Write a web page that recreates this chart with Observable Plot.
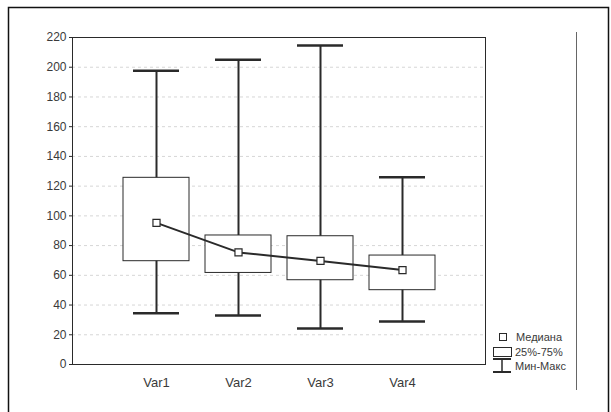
<!DOCTYPE html>
<html><head><meta charset="utf-8">
<script src="https://cdn.jsdelivr.net/npm/d3@7"></script>
<script src="https://cdn.jsdelivr.net/npm/@observablehq/plot@0.6"></script>
<style>
html,body{margin:0;padding:0;background:#fff;}
#chart{position:relative;width:611px;height:412px;overflow:hidden;}
</style></head><body><div id="chart"></div>
<script>
const categories = ["Var1", "Var2", "Var3", "Var4"];
const minValues = [34.5, 33, 24.2, 29];
const q1Values = [69.5, 61.6, 56.7, 50];
const medianValues = [95.3, 75.4, 69.7, 63.5];
const q3Values = [125.6, 86.8, 86.3, 73.3];
const maxValues = [197.6, 205, 214.7, 126];
const yTicks = [0, 20, 40, 60, 80, 100, 120, 140, 160, 180, 200, 220];
const gridValues = [20, 40, 60, 80, 100, 120, 140, 160, 180, 200];
const legendItems = ["Медиана", "25%-75%", "Мин-Макс"];

const data = categories.map((c, i) => ({
  cat: c, min: minValues[i], q1: q1Values[i], med: medianValues[i], q3: q3Values[i], max: maxValues[i]
}));

const ink = "#2a2a2a";
const plot = Plot.plot({
  width: 611, height: 412,
  marginLeft: 72, marginRight: 126, marginTop: 37, marginBottom: 48,
  style: {fontFamily: "'Liberation Sans', Arial, sans-serif", fontSize: "12px", color: "#3a3a3a", background: "white"},
  x: {type: "band", domain: categories, paddingInner: 0.2, paddingOuter: 0.6, label: null},
  y: {domain: [0, 220], label: null},
  marks: [
    Plot.ruleY(gridValues, {stroke: "#d6d6d6", strokeDasharray: "3,3", strokeWidth: 1}),
    Plot.frame({stroke: ink, strokeWidth: 1}),
    Plot.axisY({ticks: yTicks, tickSize: 3, tickPadding: 3, fontSize: 12, stroke: ink}),
    Plot.axisX({tickSize: 0, tickPadding: 13, fontSize: 13}),
    Plot.ruleX(data, {x: "cat", y1: "min", y2: "max", stroke: ink, strokeWidth: 2}),
    Plot.tickY(data, {x: "cat", y: "min", stroke: ink, strokeWidth: 2.5, inset: 10}),
    Plot.tickY(data, {x: "cat", y: "max", stroke: ink, strokeWidth: 2.5, inset: 10}),
    Plot.barY(data, {x: "cat", y1: "q1", y2: "q3", fill: "white", stroke: ink, strokeWidth: 1}),
    Plot.line(data, {x: "cat", y: "med", stroke: ink, strokeWidth: 2}),
    Plot.dot(data, {x: "cat", y: "med", symbol: "square", r: 4, fill: "white", stroke: ink, strokeWidth: 1.2})
  ]
});
document.getElementById("chart").appendChild(plot);

const svg = d3.select(plot);
// outer border
svg.append("path").attr("d", "M8.5,420V7.5H608.5V420").attr("fill", "none").attr("stroke", "#111").attr("stroke-width", 1.5);
// right separator line
svg.append("line").attr("x1", 576.5).attr("x2", 576.5).attr("y1", 32).attr("y2", 390).attr("stroke", "#666").attr("stroke-width", 1);

// legend
const lg = svg.append("g").attr("font-family", "'Liberation Sans', Arial, sans-serif").attr("font-size", 11).attr("text-anchor", "start");
const ly = [337, 352, 366];
lg.append("rect").attr("x", 499.5).attr("y", 333.5).attr("width", 7).attr("height", 7).attr("fill", "white").attr("stroke", ink);
lg.append("rect").attr("x", 493.5).attr("y", 347.5).attr("width", 18).attr("height", 9).attr("fill", "white").attr("stroke", ink);
lg.append("line").attr("x1", 493).attr("x2", 511).attr("y1", 359).attr("y2", 359).attr("stroke", ink).attr("stroke-width", 2);
lg.append("line").attr("x1", 502).attr("x2", 502).attr("y1", 359).attr("y2", 372).attr("stroke", ink).attr("stroke-width", 1.5);
lg.append("line").attr("x1", 493).attr("x2", 511).attr("y1", 372).attr("y2", 372).attr("stroke", ink).attr("stroke-width", 2);
lg.selectAll("text.lab").data(legendItems).join("text").attr("class", "lab")
  .attr("fill", "#3a3a3a")
  .attr("x", (d, i) => i === 0 ? 516 : 515).attr("y", (d, i) => ly[i]).attr("dy", "0.35em").text(d => d);
</script></body></html>
